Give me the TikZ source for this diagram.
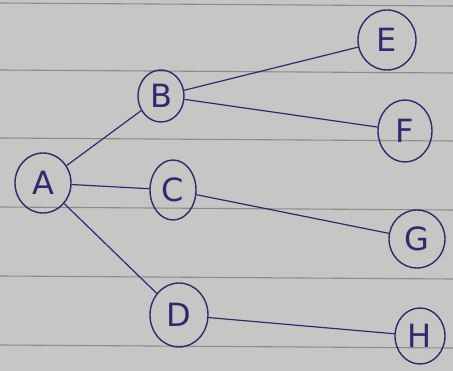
\documentclass[tikz,border=0pt]{standalone}
\usetikzlibrary{shapes.geometric}
\usepackage{fontspec}
\setmainfont{DejaVu Sans}
\definecolor{paper}{HTML}{C8C6C4}
\definecolor{rule}{HTML}{8E8C8B}
\definecolor{ink}{HTML}{2E2A70}
\begin{document}
\begin{tikzpicture}[x=1pt,y=-1pt,
  vertex/.style={ellipse,draw=ink,line width=1.4pt,text=ink,inner sep=0pt,
    font=\fontsize{32}{32}\selectfont},
  link/.style={draw=ink,line width=1.2pt},
  ruling/.style={draw=rule,line width=1.1pt}]
  % paper sheet and its ruled lines
  \fill[paper] (0,0) rectangle (453,371);
  \useasboundingbox (0,0) rectangle (453,371);
  \foreach \y in {4,71,139,208,277,346}
    \draw[ruling] (0,\y-1) -- (453,\y+2);
  % vertices
  \node[vertex,minimum width=56pt,minimum height=60pt] (A) at (43,183) {A};
  \node[vertex,minimum width=46pt,minimum height=52pt] (B) at (161,96) {B};
  \node[vertex,minimum width=46pt,minimum height=60pt] (C) at (173,190) {C};
  \node[vertex,minimum width=58pt,minimum height=64pt] (D) at (179,315) {D};
  \node[vertex,minimum width=58pt,minimum height=60pt] (E) at (387,40) {E};
  \node[vertex,minimum width=54pt,minimum height=62pt] (F) at (405,131) {F};
  \node[vertex,minimum width=56pt,minimum height=58pt] (G) at (417,239) {G};
  \node[vertex,minimum width=50pt,minimum height=56pt] (H) at (420,336) {H};
  % edges
  \draw[link] (A) -- (B);
  \draw[link] (A) -- (C);
  \draw[link] (A) -- (D);
  \draw[link] (B) -- (E);
  \draw[link] (B) -- (F);
  \draw[link] (C) -- (G);
  \draw[link] (D) -- (H);
\end{tikzpicture}
\end{document}
